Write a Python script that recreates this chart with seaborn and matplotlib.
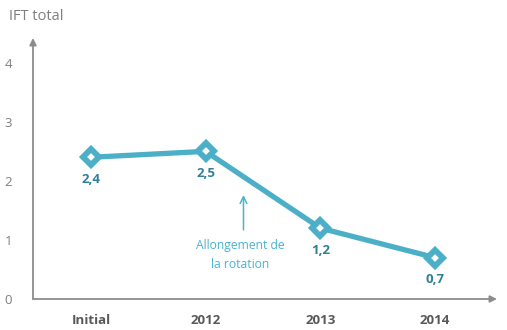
import matplotlib
matplotlib.use("Agg")
import matplotlib.pyplot as plt
import seaborn as sns
import pandas as pd

# IFT total by period
periods = ["Initial", "2012", "2013", "2014"]
ift_values = [2.4, 2.5, 1.2, 0.7]
value_labels = ["2,4", "2,5", "1,2", "0,7"]
y_ticks = [0, 1, 2, 3, 4]

LINE = "#4BAFC8"
LABEL = "#2F7F98"
NOTE = "#4AB3D0"
GREY = "#7F7F7F"
AXIS = "#8C8C8C"

sns.set_theme(style="white")
plt.rcParams["font.family"] = ["Open Sans", "DejaVu Sans"]

df = pd.DataFrame({"period": periods, "ift": ift_values})

fig = plt.figure(figsize=(5.07, 3.30), dpi=100)
W, H = 507, 330
ax = fig.add_axes([33 / W, (H - 299) / H, (490 - 33) / W, (299 - 38) / H])

sns.lineplot(data=df, x="period", y="ift", ax=ax, color=LINE, lw=3.8,
             marker="D", markersize=8.5, markerfacecolor="white",
             markeredgecolor=LINE, markeredgewidth=4.2, sort=False)
for line in ax.get_lines():
    line.set_solid_joinstyle("round")
    line.set_markeredgewidth(4.2)

ax.set_xlim(-0.504, 3.478)
ax.set_ylim(0, 4.42)
ax.set_yticks(y_ticks)
ax.set_yticklabels([str(t) for t in y_ticks], color=GREY, fontsize=9.5)
ax.set_xticks(range(len(periods)))
ax.set_xticklabels(periods, color="#595959", fontsize=9.5, fontweight="bold")
ax.tick_params(axis="y", length=0, pad=15)
ax.tick_params(axis="x", length=0, pad=11)
ax.set_xlabel("")
ax.set_ylabel("")
for s in ax.spines.values():
    s.set_visible(False)

# axes drawn as arrows
ax.annotate("", xy=(0, 1.0), xytext=(0, 0), xycoords="axes fraction",
            arrowprops=dict(arrowstyle="-|>", color=AXIS, lw=1.3,
                            mutation_scale=10, shrinkA=0, shrinkB=0))
ax.annotate("", xy=((497 - 33) / (490 - 33), 0), xytext=(0, 0),
            xycoords="axes fraction",
            arrowprops=dict(arrowstyle="-|>", color=AXIS, lw=1.3,
                            mutation_scale=10, shrinkA=0, shrinkB=0),
            annotation_clip=False)

for i, (v, lab) in enumerate(zip(ift_values, value_labels)):
    ax.annotate(lab, xy=(i, v), xytext=(0, -22), textcoords="offset pixels",
                ha="center", va="center", color=LABEL, fontsize=9.5,
                fontweight="bold")

# note about the rotation change
ax.annotate("", xy=(1.33, 1.76), xytext=(1.33, 1.17),
            arrowprops=dict(arrowstyle="->", color=NOTE, lw=1.1,
                            mutation_scale=12, shrinkA=0, shrinkB=0))
ax.text(1.3, 0.75, "Allongement de\nla rotation", ha="center", va="center",
        color=NOTE, fontsize=8.7, linespacing=1.6)

fig.text(9 / W, 1 - 17 / H, "IFT total", ha="left", va="center",
         color=GREY, fontsize=10.5)

fig.savefig("out.png", dpi=100)
